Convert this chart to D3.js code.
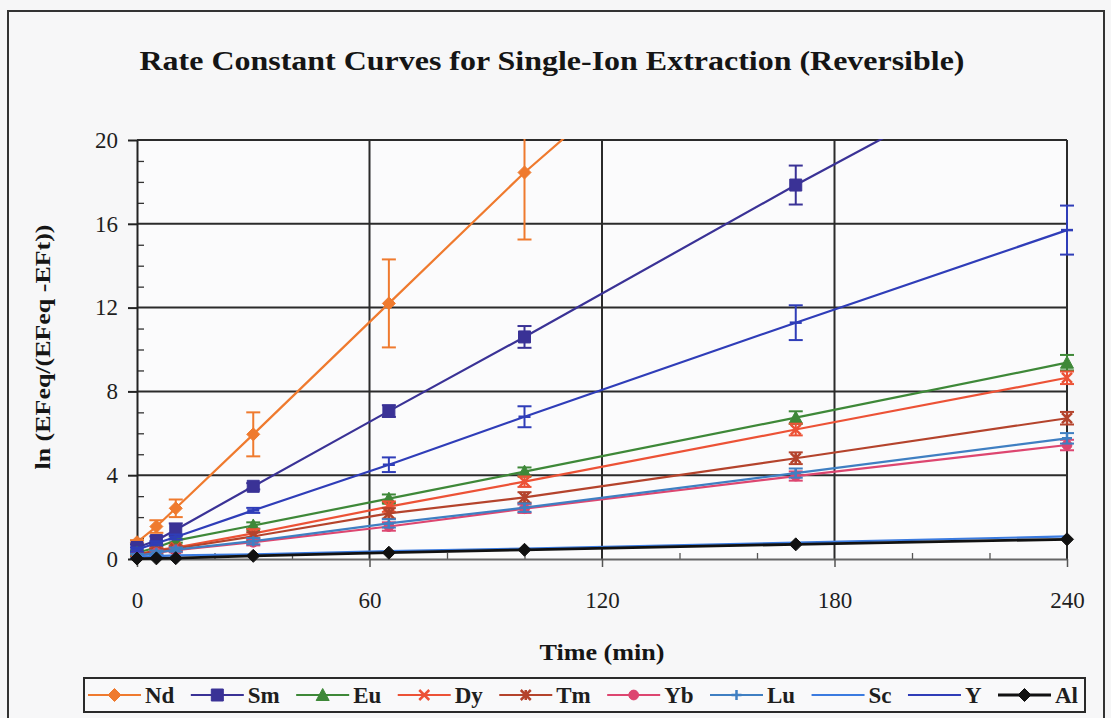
<!DOCTYPE html>
<html>
<head>
<meta charset="utf-8">
<script src="https://cdn.jsdelivr.net/npm/d3@7"></script>
<style>
  html, body { margin: 0; padding: 0; background: #f6f6f7; }
  svg { display: block; }
</style>
</head>
<body>
<svg id="chart" width="1111" height="718"></svg>
<script>
// Sampling times (min)
const timesMin = [0, 5, 10, 30, 65, 100, 170, 240];

// ln(EFeq/(EFeq - EFt)) per element, with standard deviations
const ndValues = [0.80, 1.55, 2.42, 5.95, 12.2, 18.45, 29.7, null];
const ndErrors = [0.10, 0.30, 0.42, 1.05, 2.10, 3.20, 3.50, null];
const smValues = [0.55, 0.88, 1.40, 3.47, 7.06, 10.6, 17.85, 24.8];
const smErrors = [0.15, 0.20, 0.30, 0.15, 0.28, 0.52, 0.93, 1.20];
const euValues = [0.30, 0.55, 0.88, 1.60, 2.88, 4.17, 6.75, 9.37];
const euErrors = [0.10, 0.10, 0.10, 0.15, 0.20, 0.20, 0.30, 0.37];
const dyValues = [0.20, 0.42, 0.55, 1.22, 2.50, 3.69, 6.18, 8.65];
const dyErrors = [0.10, 0.10, 0.10, 0.20, 0.25, 0.25, 0.28, 0.30];
const tmValues = [0.20, 0.40, 0.50, 1.08, 2.18, 2.94, 4.81, 6.72];
const tmErrors = [0.10, 0.10, 0.10, 0.20, 0.25, 0.25, 0.28, 0.30];
const ybValues = [0.15, 0.30, 0.42, 0.80, 1.55, 2.40, 3.96, 5.44];
const ybErrors = [0.10, 0.10, 0.10, 0.15, 0.20, 0.20, 0.22, 0.25];
const luValues = [0.15, 0.30, 0.45, 0.85, 1.70, 2.45, 4.10, 5.76];
const luErrors = [0.10, 0.10, 0.10, 0.15, 0.20, 0.20, 0.22, 0.25];
const scValues = [0.12, 0.14, 0.17, 0.22, 0.38, 0.50, 0.78, 1.08];
const yValues  = [0.45, 0.75, 1.05, 2.32, 4.50, 6.79, 11.28, 15.7];
const yErrors  = [0.10, 0.10, 0.12, 0.12, 0.35, 0.50, 0.83, 1.17];
const alValues = [0.02, 0.03, 0.04, 0.15, 0.30, 0.44, 0.70, 0.94];

const elementNames = ["Nd", "Sm", "Eu", "Dy", "Tm", "Yb", "Lu", "Sc", "Y", "Al"];
const yTickValues = [0, 4, 8, 12, 16, 20];
const xTickValues = [0, 60, 120, 180, 240];

const seriesStyle = {
  Nd: { color: "#ef7a2e", marker: "diamond", width: 2.2 },
  Sm: { color: "#3a3296", marker: "square", width: 2.2 },
  Eu: { color: "#3e8838", marker: "triangle", width: 2.2 },
  Dy: { color: "#ec5236", marker: "cross", width: 2.2 },
  Tm: { color: "#b4432c", marker: "star", width: 2.2 },
  Yb: { color: "#dd4670", marker: "circle", width: 2.2 },
  Lu: { color: "#3f7fc2", marker: "plus", width: 2.2 },
  Sc: { color: "#3b7be0", marker: "none", width: 2.2 },
  Y:  { color: "#2f3db8", marker: "dash", width: 2.2 },
  Al: { color: "#111111", marker: "diamond", width: 2.8 }
};

const seriesTable = [
  ["Nd", ndValues, ndErrors], ["Sm", smValues, smErrors], ["Eu", euValues, euErrors],
  ["Dy", dyValues, dyErrors], ["Tm", tmValues, tmErrors], ["Yb", ybValues, ybErrors],
  ["Lu", luValues, luErrors], ["Sc", scValues, null], ["Y", yValues, yErrors],
  ["Al", alValues, null]
].map(([name, vals, errs]) => ({
  name,
  points: timesMin.map((t, i) => ({ t, v: vals[i], e: errs ? errs[i] : null }))
    .filter(p => p.v !== null)
}));

const svg = d3.select("#chart");
const serif = "'Liberation Serif', 'Times New Roman', serif";

const x = d3.scaleLinear().domain([0, 240]).range([137, 1067]);
const y = d3.scaleLinear().domain([0, 20]).range([559, 140]);

// outer frame
svg.append("rect")
  .attr("x", 8).attr("y", 11).attr("width", 1096).attr("height", 740)
  .attr("fill", "#f7f7f8").attr("stroke", "#333").attr("stroke-width", 2);

// plot background
svg.append("rect")
  .attr("x", x(0)).attr("y", y(20))
  .attr("width", x(240) - x(0)).attr("height", y(0) - y(20))
  .attr("fill", "#fbfbfc");

// title
svg.append("text")
  .attr("x", 552).attr("y", 70)
  .attr("text-anchor", "middle")
  .attr("font-family", serif).attr("font-weight", "bold").attr("font-size", 28)
  .attr("textLength", 825).attr("lengthAdjust", "spacingAndGlyphs")
  .attr("fill", "#151515")
  .text("Rate Constant Curves for Single-Ion Extraction (Reversible)");

// gridlines
const grid = svg.append("g").attr("stroke", "#2b2b2b").attr("stroke-width", 2);
grid.selectAll("line.h").data(yTickValues.filter(d => d > 0)).join("line")
  .attr("class", "h")
  .attr("x1", x(0)).attr("x2", x(240))
  .attr("y1", d => y(d)).attr("y2", d => y(d));
grid.selectAll("line.v").data(xTickValues.filter(d => d > 0)).join("line")
  .attr("class", "v")
  .attr("x1", d => x(d)).attr("x2", d => x(d))
  .attr("y1", y(20)).attr("y2", y(0));

// minor ticks (inside)
const yMinor = d3.range(0, 21).filter(d => d % 4 !== 0);
svg.append("g").attr("transform", `translate(${x(0)},0)`)
  .call(d3.axisRight(y).tickValues(yMinor).tickSize(7).tickFormat(""))
  .call(g => g.select(".domain").remove())
  .call(g => g.selectAll("line").attr("stroke", "#333").attr("stroke-width", 1.3));
const xMinor = d3.range(20, 240, 20).filter(d => d % 60 !== 0);
svg.append("g").attr("transform", `translate(0,${y(0)})`)
  .call(d3.axisTop(x).tickValues(xMinor).tickSize(6).tickFormat(""))
  .call(g => g.select(".domain").remove())
  .call(g => g.selectAll("line").attr("stroke", "#555").attr("stroke-width", 1.3));

// x axis
svg.append("g").attr("transform", `translate(0,${y(0)})`)
  .call(d3.axisBottom(x).tickValues(xTickValues).tickSize(8).tickPadding(25).tickSizeOuter(0))
  .call(g => g.select(".domain").attr("stroke", "#666").attr("stroke-width", 2))
  .call(g => g.selectAll("line").attr("stroke", "#555").attr("stroke-width", 1.5))
  .call(g => g.selectAll("text").attr("font-family", serif).attr("font-size", 23).attr("fill", "#1e1e1e"));

// y axis
svg.append("g").attr("transform", `translate(${x(0)},0)`)
  .call(d3.axisLeft(y).tickValues(yTickValues).tickSize(9).tickPadding(10).tickSizeOuter(0))
  .call(g => g.select(".domain").attr("stroke", "#222").attr("stroke-width", 2))
  .call(g => g.selectAll("line").attr("stroke", "#222").attr("stroke-width", 2))
  .call(g => g.selectAll("text").attr("font-family", serif).attr("font-size", 23).attr("fill", "#1e1e1e"));

// axis titles
svg.append("text")
  .attr("transform", "translate(50,347) rotate(-90)")
  .attr("text-anchor", "middle")
  .attr("font-family", serif).attr("font-weight", "bold").attr("font-size", 22)
  .attr("textLength", 245).attr("lengthAdjust", "spacingAndGlyphs")
  .attr("fill", "#151515")
  .text("ln (EFeq/(EFeq -EFt))");
svg.append("text")
  .attr("x", 602).attr("y", 660)
  .attr("text-anchor", "middle")
  .attr("font-family", serif).attr("font-weight", "bold").attr("font-size", 23)
  .attr("textLength", 125).attr("lengthAdjust", "spacingAndGlyphs")
  .attr("fill", "#151515")
  .text("Time (min)");

// marker shapes
function markerPath(kind, s) {
  const h = s / 2;
  switch (kind) {
    case "diamond": return `M0,${-h - 1}L${h + 1},0L0,${h + 1}L${-h - 1},0Z`;
    case "square": return `M${-h},${-h}H${h}V${h}H${-h}Z`;
    case "triangle": return `M0,${-h - 1}L${h + 1},${h}L${-h - 1},${h}Z`;
    case "circle": return d3.symbol(d3.symbolCircle, s * s * 0.75)();
    case "cross": return `M${-h},${-h}L${h},${h}M${-h},${h}L${h},${-h}`;
    case "star": return `M${-h},${-h}L${h},${h}M${-h},${h}L${h},${-h}M0,${-h}V${h}`;
    case "plus": return `M${-h},0H${h}M0,${-h}V${h}`;
    case "dash": return `M${-h},0H${h}`;
    default: return "";
  }
}
const filled = { diamond: true, square: true, triangle: true, circle: true };
const markerSize = { square: 12, dash: 12, diamond: 11, triangle: 11 };

// clipping to the plot area (slightly padded so edge markers stay whole)
svg.append("clipPath").attr("id", "plotClip")
  .append("rect").attr("x", x(0) - 12).attr("y", y(20) - 1)
  .attr("width", x(240) - x(0) + 24).attr("height", y(0) - y(20) + 12);

const plot = svg.append("g").attr("clip-path", "url(#plotClip)");
const line = d3.line().x(p => x(p.t)).y(p => y(p.v));

seriesTable.forEach(s => {
  const st = seriesStyle[s.name];
  const g = plot.append("g");
  g.append("path").datum(s.points)
    .attr("d", line).attr("fill", "none")
    .attr("stroke", st.color).attr("stroke-width", st.width)
    .attr("stroke-linejoin", "round");
  // error bars
  const eb = s.points.filter(p => p.e);
  g.selectAll("line.err").data(eb).join("line").attr("class", "err")
    .attr("x1", p => x(p.t)).attr("x2", p => x(p.t))
    .attr("y1", p => y(p.v - p.e)).attr("y2", p => y(p.v + p.e))
    .attr("stroke", st.color).attr("stroke-width", 2);
  ["lo", "hi"].forEach(side => {
    g.selectAll("line.cap" + side).data(eb).join("line").attr("class", "cap" + side)
      .attr("x1", p => x(p.t) - 7).attr("x2", p => x(p.t) + 7)
      .attr("y1", p => y(side === "lo" ? p.v - p.e : p.v + p.e))
      .attr("y2", p => y(side === "lo" ? p.v - p.e : p.v + p.e))
      .attr("stroke", st.color).attr("stroke-width", 2);
  });
  // markers
  if (st.marker !== "none") {
    const size = markerSize[st.marker] || 10;
    g.selectAll("path.mk").data(s.points).join("path").attr("class", "mk")
      .attr("transform", p => `translate(${x(p.t)},${y(p.v)})`)
      .attr("d", markerPath(st.marker, size))
      .attr("fill", filled[st.marker] ? st.color : "none")
      .attr("stroke", st.color)
      .attr("stroke-width", filled[st.marker] ? 1 : 2.5);
  }
});

// legend
const legendBox = { x0: 84, x1: 1085, y0: 678, y1: 712 };
svg.append("rect")
  .attr("x", legendBox.x0).attr("y", legendBox.y0)
  .attr("width", legendBox.x1 - legendBox.x0).attr("height", legendBox.y1 - legendBox.y0)
  .attr("fill", "#f9f9fa").attr("stroke", "#2a2a2a").attr("stroke-width", 2);

const lg = svg.append("g");
const sampleLen = 53, textGap = 4;
const items = elementNames.map(name => {
  const t = lg.append("text")
    .attr("font-family", serif).attr("font-weight", "bold").attr("font-size", 23)
    .attr("fill", "#1e1e1e").attr("y", 703).text(name);
  return { name, t, w: t.node().getComputedTextLength() };
});
const usedWidth = d3.sum(items, d => sampleLen + textGap + d.w);
const startX = 88, endX = 1078;
const spacing = (endX - startX - usedWidth) / (items.length - 1);
let cx = startX;
items.forEach(it => {
  const st = seriesStyle[it.name];
  const my = 695;
  lg.append("line")
    .attr("x1", cx).attr("x2", cx + sampleLen).attr("y1", my).attr("y2", my)
    .attr("stroke", st.color).attr("stroke-width", st.width);
  if (st.marker !== "none" && st.marker !== "dash") {
    const size = markerSize[st.marker] || 10;
    lg.append("path")
      .attr("transform", `translate(${cx + sampleLen / 2},${my})`)
      .attr("d", markerPath(st.marker, size))
      .attr("fill", filled[st.marker] ? st.color : "none")
      .attr("stroke", st.color)
      .attr("stroke-width", filled[st.marker] ? 1 : 2.5);
  }
  it.t.attr("x", cx + sampleLen + textGap);
  cx += sampleLen + textGap + it.w + spacing;
});
</script>
</body>
</html>
